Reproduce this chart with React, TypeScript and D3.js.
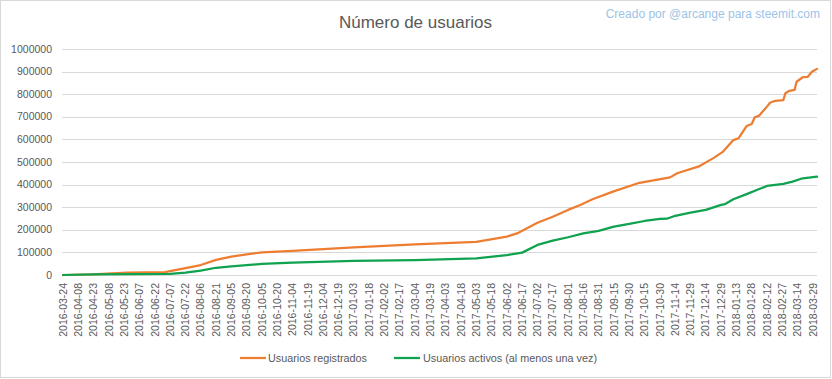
import React from "react";
import * as d3 from "d3";

const registeredDates = [
  "2016-03-24", "2016-04-22", "2016-05-26", "2016-07-02", "2016-07-07", "2016-07-22",
  "2016-08-06", "2016-08-21", "2016-09-05", "2016-09-20", "2016-10-05", "2016-10-20",
  "2016-11-04", "2017-01-03", "2017-03-04", "2017-05-03", "2017-06-02", "2017-06-12",
  "2017-07-02", "2017-07-17", "2017-08-01", "2017-08-13", "2017-08-25", "2017-09-14",
  "2017-10-10", "2017-11-09", "2017-11-16", "2017-12-08", "2017-12-21", "2017-12-31",
  "2018-01-10", "2018-01-15", "2018-01-23", "2018-01-28", "2018-01-31", "2018-02-04",
  "2018-02-12", "2018-02-15", "2018-02-20", "2018-02-28", "2018-03-02", "2018-03-06",
  "2018-03-11", "2018-03-13", "2018-03-19", "2018-03-24", "2018-03-28", "2018-04-02",
];
const registeredValues = [
  0, 3000, 10000, 13000, 17000, 30000,
  44000, 67000, 81000, 91000, 100000, 103000,
  107000, 122000, 136000, 147000, 170000, 184000,
  231000, 258000, 288000, 310000, 335000, 369000,
  408000, 432000, 450000, 482000, 516000, 546000,
  597000, 605000, 659000, 668000, 698000, 704000,
  745000, 762000, 771000, 774000, 804000, 815000,
  819000, 855000, 875000, 877000, 899000, 912000,
];

const activeDates = [
  "2016-03-24", "2016-04-23", "2016-07-07", "2016-07-22", "2016-08-06", "2016-08-21",
  "2016-09-05", "2016-09-20", "2016-10-05", "2016-11-04", "2017-01-03", "2017-03-04",
  "2017-05-03", "2017-06-02", "2017-06-17", "2017-07-02", "2017-07-17", "2017-08-01",
  "2017-08-16", "2017-08-31", "2017-09-15", "2017-09-30", "2017-10-15", "2017-10-30",
  "2017-11-06", "2017-11-14", "2017-11-29", "2017-12-14", "2017-12-29", "2018-01-02",
  "2018-01-10", "2018-01-23", "2018-02-02", "2018-02-12", "2018-02-28", "2018-03-09",
  "2018-03-19", "2018-04-02",
];
const activeValues = [
  0, 3000, 5000, 11000, 19000, 32000,
  38000, 44000, 49000, 55000, 62000, 66000,
  74000, 88000, 99000, 133000, 152000, 167000,
  184000, 195000, 214000, 226000, 239000, 248000,
  249000, 262000, 276000, 288000, 310000, 314000,
  335000, 358000, 376000, 394000, 403000, 413000,
  428000, 435000,
];

const xTickLabels = [
  "2016-03-24", "2016-04-08", "2016-04-23", "2016-05-08", "2016-05-23", "2016-06-07",
  "2016-06-22", "2016-07-07", "2016-07-22", "2016-08-06", "2016-08-21", "2016-09-05",
  "2016-09-20", "2016-10-05", "2016-10-20", "2016-11-04", "2016-11-19", "2016-12-04",
  "2016-12-19", "2017-01-03", "2017-01-18", "2017-02-02", "2017-02-17", "2017-03-04",
  "2017-03-19", "2017-04-03", "2017-04-18", "2017-05-03", "2017-05-18", "2017-06-02",
  "2017-06-17", "2017-07-02", "2017-07-17", "2017-08-01", "2017-08-16", "2017-08-31",
  "2017-09-15", "2017-09-30", "2017-10-15", "2017-10-30", "2017-11-14", "2017-11-29",
  "2017-12-14", "2017-12-29", "2018-01-13", "2018-01-28", "2018-02-12", "2018-02-27",
  "2018-03-14", "2018-03-29",
];
const yTicks = [0, 100000, 200000, 300000, 400000, 500000, 600000, 700000, 800000, 900000, 1000000];

const seriesNames = ["Usuarios registrados", "Usuarios activos (al menos una vez)"];
const title = "Número de usuarios";
const credit = "Creado por @arcange para steemit.com";

const W = 832;
const H = 379;
const FONT = "'Liberation Sans', Arial, sans-serif";
const TEXT = "#595959";
const ORANGE = "#ED7D31";
const GREEN = "#0FA24F";

export default function App() {
  const parse = d3.utcParse("%Y-%m-%d");
  const x = d3
    .scaleUtc()
    .domain([parse("2016-03-24") as Date, parse("2018-04-02") as Date])
    .range([63, 817]);
  const y = d3.scaleLinear().domain([0, 1000000]).range([275, 49]);

  const reg = registeredDates.map((d, i) => ({ d: parse(d) as Date, v: registeredValues[i] }));
  const act = activeDates.map((d, i) => ({ d: parse(d) as Date, v: activeValues[i] }));
  const line = d3
    .line<{ d: Date; v: number }>()
    .x((p) => x(p.d))
    .y((p) => y(p.v));

  const legend = [
    { name: seriesNames[0], color: ORANGE, x0: 240, tx: 268 },
    { name: seriesNames[1], color: GREEN, x0: 394, tx: 423 },
  ];

  return (
    <div style={{ position: "fixed", left: 0, top: 0 }}>
      <svg width={W} height={H} style={{ display: "block", background: "#fff" }}>
        <rect x={0.5} y={0.5} width={830} height={377} fill="#fff" stroke="#d9d9d9" />
        <text x={415.5} y={28} textAnchor="middle" fontFamily={FONT} fontSize={17} fill={TEXT}>
          {title}
        </text>
        <text x={820} y={18} textAnchor="end" fontFamily={FONT} fontSize={12} fill="#9DC3E6">
          {credit}
        </text>
        {yTicks.map((t) => (
          <g key={t}>
            <line x1={62} x2={817} y1={Math.round(y(t)) + 0.5} y2={Math.round(y(t)) + 0.5} stroke="#d9d9d9" strokeWidth={1} />
            <text x={52} y={y(t)} dy="0.35em" textAnchor="end" fontFamily={FONT} fontSize={10.5} fill={TEXT}>
              {t}
            </text>
          </g>
        ))}
        {xTickLabels.map((s) => {
          const px = x(parse(s) as Date);
          return (
            <text
              key={s}
              transform={`translate(${px},283) rotate(-90)`}
              dy="0.35em"
              textAnchor="end"
              fontFamily={FONT}
              fontSize={10.5}
              fill={TEXT}
            >
              {s}
            </text>
          );
        })}
        <path d={line(reg) || ""} fill="none" stroke={ORANGE} strokeWidth={2.25} strokeLinejoin="round" strokeLinecap="round" />
        <path d={line(act) || ""} fill="none" stroke={GREEN} strokeWidth={2.25} strokeLinejoin="round" strokeLinecap="round" />
        {legend.map((l) => (
          <g key={l.name}>
            <line x1={l.x0} x2={l.x0 + 26} y1={358} y2={358} stroke={l.color} strokeWidth={2.25} />
            <text x={l.tx} y={358} dy="0.35em" fontFamily={FONT} fontSize={10.8} fill={TEXT}>
              {l.name}
            </text>
          </g>
        ))}
      </svg>
    </div>
  );
}
